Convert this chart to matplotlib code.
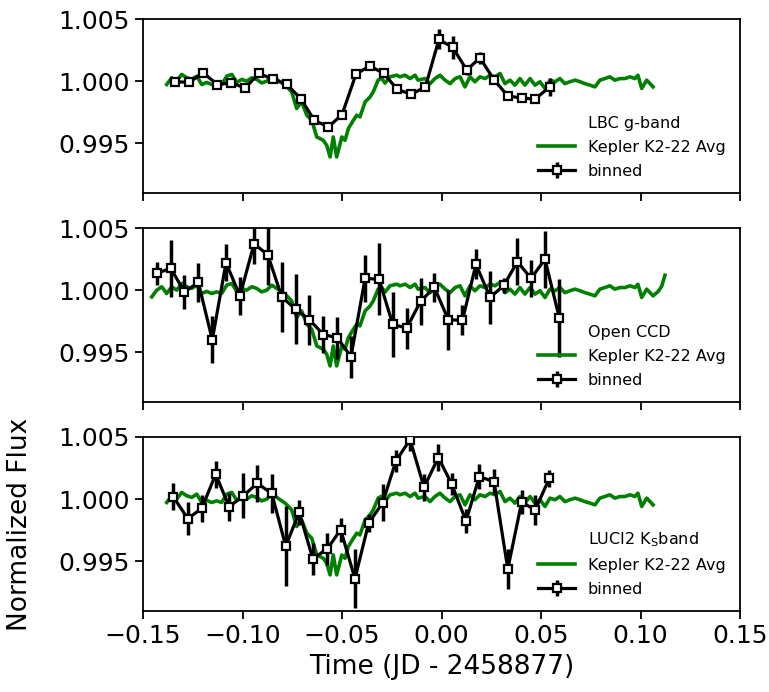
import numpy as np
import matplotlib.pyplot as plt
from matplotlib.ticker import FormatStrFormatter

# Kepler K2-22 phase-folded average (shared by all panels)
kepler_t = [-0.1456, -0.1431, -0.1406, -0.1381, -0.1356, -0.1331, -0.1306, -0.1280, -0.1255, -0.1230,
            -0.1205, -0.1180, -0.1155, -0.1130, -0.1105, -0.1079, -0.1054, -0.1029, -0.1004, -0.0979,
            -0.0954, -0.0929, -0.0904, -0.0878, -0.0853, -0.0828, -0.0803, -0.0786, -0.0753, -0.0728,
            -0.0703, -0.0677, -0.0652, -0.0627, -0.0611, -0.0594, -0.0577, -0.0560, -0.0544, -0.0527,
            -0.0501, -0.0485, -0.0468, -0.0443, -0.0426, -0.0410, -0.0384, -0.0359, -0.0343, -0.0318,
            -0.0301, -0.0284, -0.0259, -0.0225, -0.0209, -0.0183, -0.0158, -0.0133, -0.0118, -0.0083,
            -0.0058, -0.0033, -0.0008, 0.0018, 0.0043, 0.0068, 0.0093, 0.0118, 0.0143, 0.0168,
            0.0193, 0.0219, 0.0244, 0.0269, 0.0294, 0.0319, 0.0344, 0.0369, 0.0394, 0.0419,
            0.0445, 0.0470, 0.0495, 0.0520, 0.0545, 0.0570, 0.0595, 0.0620, 0.0645, 0.0671,
            0.0696, 0.0721, 0.0746, 0.0771, 0.0796, 0.0821, 0.0846, 0.0871, 0.0897, 0.0922,
            0.0947, 0.0972, 0.0987, 0.1006, 0.1031, 0.1048, 0.1063, 0.1089, 0.1106, 0.1123]
kepler_f = [0.99946, 1.00000, 1.00027, 0.99973, 1.00027, 1.00000, 1.00054, 1.00027, 1.00014, 1.00040,
            0.99973, 0.99990, 0.99973, 0.99986, 0.99973, 1.00041, 1.00054, 0.99990, 1.00014, 1.00000,
            1.00027, 1.00014, 0.99986, 1.00000, 1.00040, 1.00014, 0.99986, 0.99968, 0.99914, 0.99780,
            0.99833, 0.99726, 0.99685, 0.99551, 0.99538, 0.99524, 0.99484, 0.99390, 0.99551, 0.99390,
            0.99551, 0.99524, 0.99619, 0.99685, 0.99726, 0.99712, 0.99833, 0.99873, 0.99914, 1.00010,
            1.00023, 0.99984, 1.00035, 1.00048, 1.00035, 1.00048, 1.00021, 1.00048, 1.00008, 1.00021,
            0.99980, 1.00021, 1.00048, 1.00008, 0.99980, 1.00021, 1.00035, 0.99954, 1.00035, 0.99995,
            1.00035, 1.00021, 1.00048, 1.00035, 1.00062, 0.99980, 1.00008, 0.99968, 1.00021, 0.99968,
            1.00021, 0.99968, 0.99995, 0.99941, 1.00008, 0.99995, 1.00021, 0.99980, 0.99995, 1.00008,
            0.99995, 0.99980, 0.99968, 0.99954, 1.00008, 1.00021, 1.00035, 1.00008, 1.00021, 1.00021,
            1.00035, 1.00021, 1.00048, 0.99941, 1.00008, 0.99980, 0.99954, 0.99990, 1.00030, 1.00120]

# LBC g-band binned
lbc_t = [-0.1339, -0.1267, -0.1197, -0.1127, -0.1058, -0.0987, -0.0917, -0.0848, -0.0778, -0.0708,
         -0.0639, -0.0569, -0.0500, -0.0430, -0.0361, -0.0290, -0.0222, -0.0152, -0.0081, -0.0013,
         0.0056, 0.0127, 0.0193, 0.0265, 0.0333, 0.0403, 0.0471, 0.0544]
lbc_f = [0.99994, 0.99992, 1.00067, 0.99973, 0.99986, 0.99946, 1.00062, 1.00016, 0.99976, 0.99860,
         0.99685, 0.99631, 0.99731, 1.00056, 1.00123, 1.00062, 0.99933, 0.99895, 0.99954, 1.00336,
         1.00272, 1.00089, 1.00188, 1.00008, 0.99882, 0.99863, 0.99857, 0.99954]
lbc_e = [0.0003, 0.0003, 0.0003, 0.0003, 0.0003, 0.0003, 0.0003, 0.0003, 0.0003, 0.0003,
         0.0003, 0.0003, 0.0003, 0.0003, 0.0003, 0.0003, 0.0003, 0.0003, 0.0003, 0.0008,
         0.0009, 0.0004, 0.0005, 0.0003, 0.0003, 0.0003, 0.0003, 0.0007]

# Open CCD binned
ccd_t = [-0.1431, -0.1361, -0.1292, -0.1222, -0.1152, -0.1083, -0.1013, -0.0942, -0.0873, -0.0803,
         -0.0733, -0.0664, -0.0594, -0.0524, -0.0455, -0.0384, -0.0314, -0.0245, -0.0175, -0.0105,
         -0.0036, 0.0034, 0.0105, 0.0173, 0.0244, 0.0314, 0.0381, 0.0450, 0.0520, 0.0592]
ccd_f = [1.00135, 1.00176, 0.99986, 1.00062, 0.99600, 1.00221, 0.99954, 1.00373, 1.00284, 0.99946,
         0.99846, 0.99762, 0.99643, 0.99617, 0.99465, 1.00095, 1.00087, 0.99724, 0.99695, 0.99911,
         1.00022, 0.99762, 0.99757, 1.00208, 0.99941, 1.00040, 1.00229, 1.00095, 1.00249, 0.99776]
ccd_e = [0.00095, 0.0023, 0.00135, 0.0016, 0.0019, 0.0015, 0.00155, 0.0016, 0.0024, 0.0028,
         0.0028, 0.0020, 0.0015, 0.0017, 0.0017, 0.0019, 0.0029, 0.0026, 0.00165, 0.0019,
         0.0012, 0.0024, 0.0012, 0.0012, 0.0021, 0.0006, 0.0019, 0.0015, 0.0023, 0.0031]

# LUCI2 Ks band binned
luci_t = [-0.1348, -0.1275, -0.1205, -0.1135, -0.1067, -0.0996, -0.0926, -0.0853, -0.0783, -0.0715,
          -0.0647, -0.0574, -0.0507, -0.0435, -0.0366, -0.0296, -0.0229, -0.0158, -0.0088, -0.0016,
          0.0051, 0.0123, 0.0190, 0.0264, 0.0333, 0.0403, 0.0470, 0.0542]
luci_f = [1.00019, 0.99843, 0.99925, 1.00200, 0.99938, 1.00027, 1.00127, 1.00046, 0.99622, 0.99895,
          0.99520, 0.99600, 0.99754, 0.99360, 0.99808, 0.99970, 1.00308, 1.00478, 1.00095, 1.00335,
          1.00122, 0.99824, 1.00181, 1.00140, 0.99438, 0.99978, 0.99911, 1.00168]
luci_e = [0.0011, 0.00135, 0.0011, 0.0011, 0.0011, 0.0018, 0.0015, 0.0016, 0.0032, 0.0010,
          0.0013, 0.0013, 0.00095, 0.0024, 0.0007, 0.0015, 0.00087, 0.00087, 0.0011, 0.0011,
          0.0009, 0.00095, 0.0010, 0.0010, 0.0016, 0.00095, 0.0012, 0.0007]

panel_names = ['LBC g-band', 'Open CCD', 'LUCI2 K$_\\mathrm{S}$band']
# kepler window shown in each panel
kepler_windows = [(-0.139, 0.1065), (-0.15, 0.15), (-0.139, 0.1065)]

datasets = [(lbc_t, lbc_f, lbc_e), (ccd_t, ccd_f, ccd_e), (luci_t, luci_f, luci_e)]

fig = plt.figure(figsize=(7.69, 6.92), dpi=100)
left, width, height = 0.186, 0.7763, 0.2514
bottoms = [0.7211, 0.4191, 0.1171]

kt = np.array(kepler_t)
kf = np.array(kepler_f)

axes = []
for i, (t, f, e) in enumerate(datasets):
    ax = fig.add_axes([left, bottoms[i], width, height])
    lo, hi = kepler_windows[i]
    m = (kt >= lo) & (kt <= hi)
    ax.plot([], [], ' ', label=panel_names[i])
    ax.plot(kt[m], kf[m], color='green', lw=2.6, label='Kepler K2-22 Avg', zorder=2)
    ax.errorbar(t, f, yerr=e, fmt='s-', color='black', mfc='white', mec='black',
                ms=6, mew=1.6, lw=2.3, elinewidth=2.5, capsize=0, label='binned', zorder=3)
    ax.set_xlim(-0.15, 0.15)
    ax.set_ylim(0.991, 1.005)
    ax.set_yticks([0.995, 1.000, 1.005])
    ax.set_xticks([-0.15, -0.10, -0.05, 0.00, 0.05, 0.10, 0.15])
    ax.yaxis.set_major_formatter(FormatStrFormatter('%.3f'))
    ax.tick_params(labelsize=18, length=6, width=1.3)
    for s in ax.spines.values():
        s.set_linewidth(1.3)
    if i < 2:
        ax.set_xticklabels([])
    ax.legend(loc='lower right', frameon=False, fontsize=11.5, labelspacing=0.55,
              handlelength=2.3, borderaxespad=0.5)
    axes.append(ax)

axes[2].set_xlabel('Time (JD - 2458877)', fontsize=19)
axes[2].set_ylabel('Normalized Flux', fontsize=19)
axes[2].yaxis.set_label_coords(-0.185, 0.5)

plt.savefig('out.png', dpi=100)
